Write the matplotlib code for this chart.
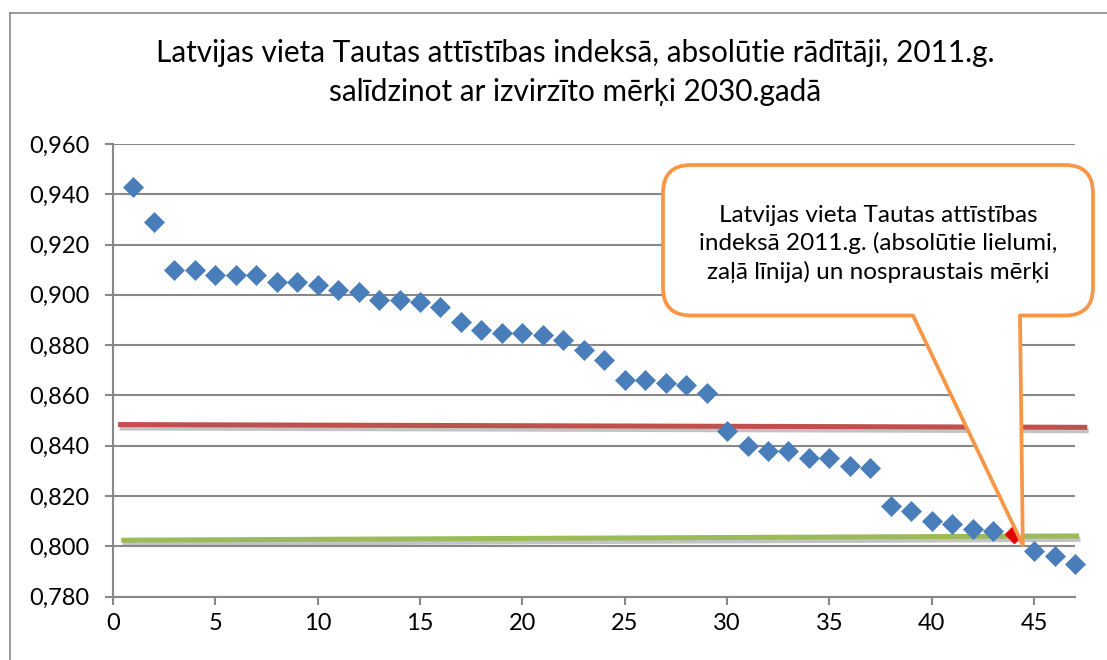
import matplotlib
matplotlib.use("Agg")
import matplotlib.pyplot as plt
import matplotlib.patheffects as pe
from matplotlib.path import Path
from matplotlib.patches import PathPatch
from matplotlib.lines import Line2D

# ---- data ----
rank = list(range(1, 48))
hdi = [0.943, 0.929, 0.910, 0.910, 0.908, 0.908, 0.908, 0.905, 0.905, 0.904,
       0.902, 0.901, 0.898, 0.898, 0.897, 0.895, 0.889, 0.886, 0.885, 0.885,
       0.884, 0.882, 0.878, 0.874, 0.866, 0.866, 0.865, 0.864, 0.861, 0.846,
       0.840, 0.838, 0.838, 0.835, 0.835, 0.832, 0.831, 0.816, 0.814, 0.810,
       0.809, 0.807, 0.806, 0.805, 0.798, 0.796, 0.793]
latvia_rank = 44
target_x = [0.25, 47.6]
target_y = [0.8484, 0.8473]
latvia_line_x = [0.4, 47.2]
latvia_line_y = [0.8024, 0.8041]
y_ticks = [0.780, 0.800, 0.820, 0.840, 0.860, 0.880, 0.900, 0.920, 0.940, 0.960]
x_ticks = [0, 5, 10, 15, 20, 25, 30, 35, 40, 45]
title = "Latvijas vieta Tautas attīstības indeksā, absolūtie rādītāji, 2011.g.\nsalīdzinot ar izvirzīto mērķi 2030.gadā"
callout = "Latvijas vieta Tautas attīstības\nindeksā 2011.g. (absolūtie lielumi,\nzaļā līnija) un nospraustais mērķi"

FONT = "Lato"
W, H = 1107, 660
fig = plt.figure(figsize=(W / 100, H / 100), dpi=100)
ax = fig.add_axes([113 / W, 1 - 596.5 / H, (1075 - 113) / W, (596.5 - 144) / H])

grid_c = "#888888"
ax.set_xlim(0, 47)
ax.set_ylim(0.780, 0.960)
ax.set_yticks(y_ticks)
ax.set_yticklabels([f"{v:.3f}".replace(".", ",") for v in y_ticks], fontfamily=FONT, fontsize=17)
ax.set_xticks(x_ticks)
ax.set_xticklabels([str(v) for v in x_ticks], fontfamily=FONT, fontsize=17)
ax.yaxis.grid(True, color=grid_c, lw=1.5)
ax.set_axisbelow(True)
for s in ["top", "right"]:
    ax.spines[s].set_visible(False)
for s in ["left", "bottom"]:
    ax.spines[s].set_color(grid_c)
    ax.spines[s].set_linewidth(1.5)
ax.tick_params(axis="both", color=grid_c, width=1.5, length=6, direction="out")
ax.tick_params(axis="y", pad=11)
ax.tick_params(axis="x", pad=6)

shadow = [pe.SimpleLineShadow(offset=(1, -2.5), shadow_color="#888888", alpha=0.5), pe.Normal()]
ax.plot(target_x, target_y, color="#C0504D", lw=3.6, solid_capstyle="butt",
        clip_on=False, path_effects=shadow, zorder=2)
ax.plot(latvia_line_x, latvia_line_y, color="#9BBB59", lw=3.6, solid_capstyle="butt",
        clip_on=False, path_effects=shadow, zorder=2)

for r, v in zip(rank, hdi):
    if r == latvia_rank:
        ax.plot([r], [v], marker="D", ms=9.5, mfc="#E00000", mec="#FF0000", lw=0, zorder=3, clip_on=False)
    else:
        ax.plot([r], [v], marker="D", ms=9.8, mfc="#4A7EBB", mec="#4A7EBB", mew=0.5, lw=0, zorder=3, clip_on=False)

fig.text(575 / W, 1 - 72.5 / H, title, ha="center", va="center", fontfamily=FONT,
         fontsize=21.4, linespacing=1.45)

# chart border (left and top visible)
fig.add_artist(Line2D([10 / W, 10 / W], [0, 1 - 13 / H], color=grid_c, lw=1.2, transform=fig.transFigure))
fig.add_artist(Line2D([10 / W, 1.0], [1 - 13 / H, 1 - 13 / H], color=grid_c, lw=1.2, transform=fig.transFigure))

# callout shape (pixels, y down)
L, R, T, B, rr = 663, 1093, 165, 315.5, 28
tip_disp = ax.transData.transform((44.45, 0.8005))
tipx, tipy = tip_disp[0], H - tip_disp[1]
pts = [(L + rr, T), (R - rr, T), (R, T), (R, T + rr), (R, B - rr), (R, B), (R - rr, B),
       (1020, B), (tipx, tipy), (913, B), (L + rr, B), (L, B), (L, B - rr), (L, T + rr),
       (L, T), (L + rr, T), (L + rr, T)]
codes = [Path.MOVETO, Path.LINETO, Path.CURVE3, Path.CURVE3, Path.LINETO, Path.CURVE3, Path.CURVE3,
         Path.LINETO, Path.LINETO, Path.LINETO, Path.LINETO, Path.CURVE3, Path.CURVE3, Path.LINETO,
         Path.CURVE3, Path.CURVE3, Path.CLOSEPOLY]
verts = [(x / W, 1 - y / H) for x, y in pts]
patch = PathPatch(Path(verts, codes), facecolor="white", edgecolor="#F79646", lw=2.7,
                  transform=fig.transFigure, zorder=10, joinstyle="round")
fig.add_artist(patch)
fig.text(878 / W, 1 - 244 / H, callout, ha="center", va="center", fontfamily=FONT,
         fontsize=17.5, linespacing=1.38, zorder=11)

fig.savefig("out.png", dpi=100)
